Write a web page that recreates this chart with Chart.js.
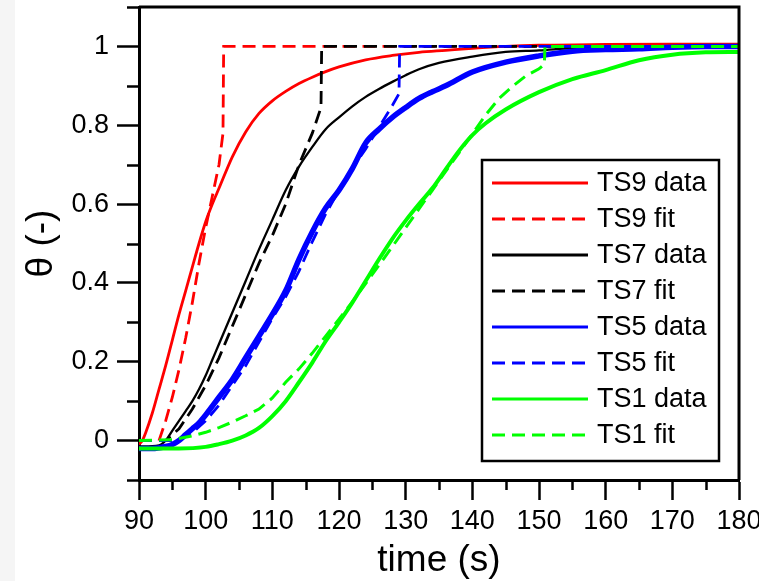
<!DOCTYPE html>
<html>
<head>
<meta charset="utf-8">
<script src="https://cdn.jsdelivr.net/npm/chart.js@4.4.1/dist/chart.umd.min.js"></script>
<style>
  html, body { margin: 0; padding: 0; background: #ffffff; }
  #wrap { position: relative; width: 759px; height: 581px; }
  canvas { display: block; }
</style>
</head>
<body>
<div id="wrap"><canvas id="c" width="759" height="581"></canvas></div>
<script>
// ---- data ----
const seriesLabels = ['TS9 data', 'TS9 fit', 'TS7 data', 'TS7 fit', 'TS5 data', 'TS5 fit', 'TS1 data', 'TS1 fit'];
const seriesColors = ['#ff0000', '#ff0000', '#000000', '#000000', '#0000ff', '#0000ff', '#00ff00', '#00ff00'];

const ts9DataTime  = [90, 90.5, 91, 92, 93, 94, 95, 96, 97, 98, 99, 100, 101, 102, 104, 106, 108, 110, 112, 114, 116, 118, 120, 124, 128, 132, 136, 140, 145, 150, 160, 170, 180];
const ts9DataTheta = [-0.01, 0.0, 0.02, 0.07, 0.13, 0.19, 0.255, 0.32, 0.38, 0.44, 0.5, 0.555, 0.6, 0.64, 0.72, 0.783, 0.83, 0.862, 0.886, 0.906, 0.922, 0.936, 0.948, 0.966, 0.977, 0.985, 0.99, 0.995, 1.0, 1.003, 1.005, 1.006, 1.006];

const ts9FitTime  = [90, 93, 94, 95, 96, 97, 98, 99, 100, 101, 102, 102.6, 102.7, 180];
const ts9FitTheta = [0, 0, 0.05, 0.11, 0.18, 0.26, 0.35, 0.45, 0.54, 0.62, 0.7, 0.78, 1.0, 1.0];

const ts7DataTime  = [90, 93, 94, 95, 96, 97, 98, 99, 100, 101, 102, 104, 106, 108, 110, 112, 114, 116, 118, 120, 122, 124, 126, 128, 130, 132, 135, 140, 145, 150, 155, 160, 170, 180];
const ts7DataTheta = [-0.015, -0.012, 0.0, 0.025, 0.05, 0.075, 0.1, 0.13, 0.165, 0.205, 0.245, 0.325, 0.405, 0.485, 0.56, 0.635, 0.695, 0.745, 0.79, 0.82, 0.848, 0.872, 0.892, 0.91, 0.927, 0.942, 0.958, 0.974, 0.986, 0.99, 0.996, 0.998, 1.0, 1.0];

const ts7FitTime  = [90, 94, 96, 98, 100, 102, 104, 106, 108, 110, 112, 114, 116, 117.3, 117.4, 180];
const ts7FitTheta = [0, 0, 0.03, 0.08, 0.14, 0.21, 0.29, 0.37, 0.45, 0.52, 0.6, 0.7, 0.78, 0.845, 1.0, 1.0];

const ts5DataTime  = [90, 92, 94, 95, 96, 97, 98, 99, 100, 102, 104, 106, 108, 110, 112, 114, 116, 118, 120, 122, 124, 126, 128, 130, 132, 134, 136, 140, 145, 150, 155, 160, 165, 170, 175, 180];
const ts5DataTheta = [-0.02, -0.02, -0.015, -0.01, 0.0, 0.015, 0.03, 0.045, 0.065, 0.11, 0.155, 0.21, 0.265, 0.32, 0.38, 0.46, 0.53, 0.59, 0.635, 0.69, 0.755, 0.79, 0.82, 0.845, 0.868, 0.885, 0.9, 0.935, 0.96, 0.976, 0.988, 0.992, 0.994, 0.998, 1.0, 1.0];

const ts5FitTime  = [90, 95.5, 98, 100, 102, 104, 106, 108, 110, 112, 114, 116, 118, 120, 122, 124, 126, 128, 129, 129.1, 180];
const ts5FitTheta = [0, 0, 0.02, 0.05, 0.09, 0.14, 0.19, 0.25, 0.31, 0.365, 0.43, 0.505, 0.575, 0.635, 0.69, 0.74, 0.795, 0.85, 0.88, 1.0, 1.0];

const ts1DataTime  = [90, 96, 100, 102, 104, 106, 108, 110, 112, 114, 116, 118, 120, 122, 124, 126, 128, 130, 132, 134, 136, 138, 140, 142, 145, 150, 155, 160, 165, 170, 175, 180];
const ts1DataTheta = [-0.02, -0.02, -0.016, -0.009, 0.0, 0.013, 0.032, 0.062, 0.1, 0.148, 0.198, 0.252, 0.3, 0.35, 0.405, 0.46, 0.512, 0.558, 0.6, 0.64, 0.688, 0.735, 0.775, 0.805, 0.84, 0.884, 0.917, 0.94, 0.965, 0.979, 0.985, 0.986];

const ts1FitTime  = [90, 95, 98, 100, 102, 104, 106, 108, 110, 112, 114, 116, 118, 120, 122, 124, 126, 128, 130, 132, 134, 136, 138, 140, 142, 144, 146, 148, 150, 150.8, 150.9, 180];
const ts1FitTheta = [0, 0.002, 0.012, 0.021, 0.033, 0.047, 0.063, 0.08, 0.108, 0.148, 0.182, 0.222, 0.265, 0.308, 0.352, 0.398, 0.445, 0.492, 0.54, 0.588, 0.635, 0.683, 0.73, 0.778, 0.826, 0.868, 0.898, 0.925, 0.943, 0.955, 1.0, 1.0];

const xTickMin = 90, xTickMax = 180, xMajorStep = 10, xMinorStep = 5;
const yTickMin = -0.1, yTickMax = 1.1, yMajorStep = 0.2, yMinorStep = 0.1;

// ---- helpers ----
const toPoints = (ts, ys) => ts.map((t, i) => ({ x: t, y: ys[i] }));
const FONT = "'Liberation Sans', Arial, Helvetica, sans-serif";

const seriesTimes  = [ts9DataTime, ts9FitTime, ts7DataTime, ts7FitTime, ts5DataTime, ts5FitTime, ts1DataTime, ts1FitTime];
const seriesThetas = [ts9DataTheta, ts9FitTheta, ts7DataTheta, ts7FitTheta, ts5DataTheta, ts5FitTheta, ts1DataTheta, ts1FitTheta];
const seriesWidths = [2.8, 2.8, 2.3, 2.8, 5.5, 2.8, 4, 3];

const datasets = seriesLabels.map((lab, i) => {
  const isFit = lab.endsWith('fit');
  return {
    label: lab,
    data: toPoints(seriesTimes[i], seriesThetas[i]),
    borderColor: seriesColors[i],
    backgroundColor: seriesColors[i],
    borderWidth: seriesWidths[i],
    borderDash: isFit ? [13, 7] : [],
    pointRadius: 0,
    fill: false,
    cubicInterpolationMode: isFit ? 'default' : 'monotone',
    tension: 0,
    order: seriesLabels.length - i
  };
});

const isMajorY = v => Math.abs(Math.round(v * 10)) % 2 === 0 && v > -0.05 && v < 1.05;
const isMajorX = v => Math.round(v) % 10 === 0;

// frame, minor ticks, legend, background
const decorPlugin = {
  id: 'decor',
  beforeDraw(chart) {
    const ctx = chart.ctx;
    ctx.save();
    ctx.fillStyle = '#ffffff';
    ctx.fillRect(0, 0, chart.width, chart.height);
    ctx.fillStyle = '#f5f5f5';
    ctx.fillRect(0, 0, 15, chart.height);
    ctx.restore();
  },
  afterDraw(chart) {
    const ctx = chart.ctx;
    const a = chart.chartArea;
    const xs = chart.scales.x, ys = chart.scales.y;
    ctx.save();
    ctx.strokeStyle = '#000';
    ctx.lineWidth = 3;
    // top & right frame
    ctx.beginPath();
    ctx.moveTo(a.left, a.top); ctx.lineTo(a.right, a.top); ctx.lineTo(a.right, a.bottom);
    ctx.stroke();
    // minor ticks
    ctx.lineWidth = 2.5;
    ys.ticks.forEach(t => {
      if (!isMajorY(t.value)) {
        const py = Math.round(ys.getPixelForValue(t.value)) + 0.5;
        ctx.beginPath(); ctx.moveTo(a.left - 12, py); ctx.lineTo(a.left, py); ctx.stroke();
      }
    });
    xs.ticks.forEach(t => {
      if (!isMajorX(t.value)) {
        const px = Math.round(xs.getPixelForValue(t.value)) + 0.5;
        ctx.beginPath(); ctx.moveTo(px, a.bottom); ctx.lineTo(px, a.bottom + 10); ctx.stroke();
      }
    });
    // legend
    const lx = 482, ly = 160, lw = 237, lh = 301;
    ctx.fillStyle = '#fff';
    ctx.fillRect(lx, ly, lw, lh);
    ctx.lineWidth = 2.5;
    ctx.strokeStyle = '#000';
    ctx.strokeRect(lx, ly, lw, lh);
    ctx.font = '27px ' + FONT;
    ctx.textBaseline = 'middle';
    ctx.textAlign = 'left';
    chart.data.datasets.forEach((ds, i) => {
      const cy = ly + 23 + i * 36;
      ctx.strokeStyle = ds.borderColor;
      ctx.lineWidth = 3;
      ctx.setLineDash(ds.borderDash || []);
      ctx.beginPath(); ctx.moveTo(lx + 10, cy); ctx.lineTo(lx + 106, cy); ctx.stroke();
      ctx.setLineDash([]);
      ctx.fillStyle = '#000';
      ctx.fillText(ds.label, lx + 115, cy + 1);
    });
    ctx.restore();
  }
};

new Chart(document.getElementById('c'), {
  type: 'line',
  data: { datasets },
  plugins: [decorPlugin],
  options: {
    responsive: false,
    animation: false,
    layout: { padding: { left: 0, top: 7, right: 20, bottom: 0 } },
    plugins: { legend: { display: false }, tooltip: { enabled: false } },
    scales: {
      x: {
        type: 'linear',
        min: xTickMin, max: xTickMax,
        ticks: {
          stepSize: xMinorStep,
          color: '#000',
          font: { family: FONT, size: 27 },
          padding: 5,
          maxRotation: 0,
          autoSkip: false,
          callback: v => isMajorX(v) ? String(Math.round(v)) : ''
        },
        grid: {
          drawOnChartArea: false,
          drawTicks: true,
          tickLength: 20,
          tickWidth: 2.5,
          tickColor: ctx => (ctx.tick && isMajorX(ctx.tick.value)) ? '#000' : 'rgba(0,0,0,0)'
        },
        border: { display: true, color: '#000', width: 3 },
        title: { display: true, text: 'time (s)', color: '#000', font: { family: FONT, size: 37 }, padding: { top: 0, bottom: -2 } },
        afterFit: s => { s.height = 101; s.paddingLeft = 0; s.paddingRight = 0; }
      },
      y: {
        type: 'linear',
        min: yTickMin, max: yTickMax,
        ticks: {
          stepSize: yMinorStep,
          color: '#000',
          font: { family: FONT, size: 27 },
          padding: 8,
          autoSkip: false,
          callback: v => isMajorY(v) ? String(Math.round(v * 10) / 10) : ''
        },
        grid: {
          drawOnChartArea: false,
          drawTicks: true,
          tickLength: 22,
          tickWidth: 2.5,
          tickColor: ctx => (ctx.tick && isMajorY(ctx.tick.value)) ? '#000' : 'rgba(0,0,0,0)'
        },
        border: { display: true, color: '#000', width: 3 },
        title: { display: true, text: 'θ (-)', color: '#000', font: { family: FONT, size: 37 }, padding: { top: 20, bottom: 0 } },
        afterFit: s => { s.width = 139; s.paddingTop = 0; s.paddingBottom = 0; }
      }
    }
  }
});
</script>
</body>
</html>
